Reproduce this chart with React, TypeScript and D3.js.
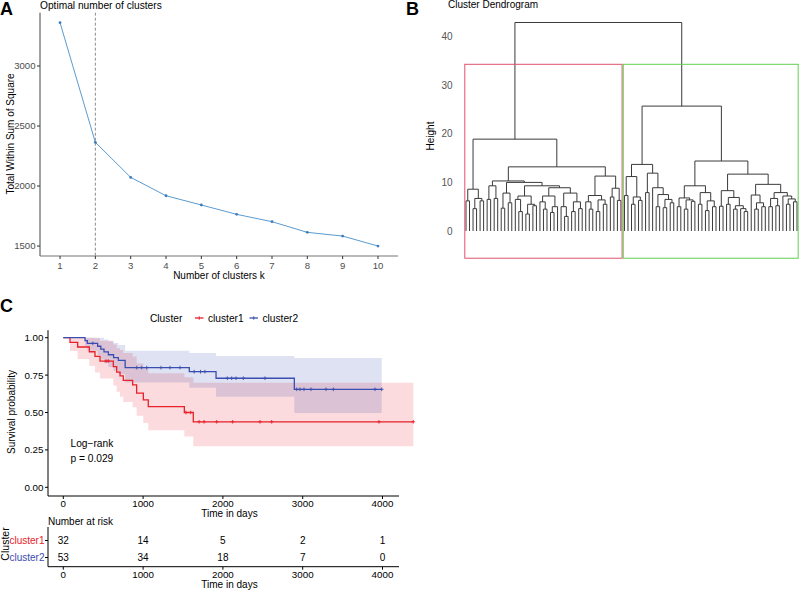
import React from 'react';
import * as d3 from 'd3';

const FONT = '"Liberation Sans", Arial, Helvetica, sans-serif';

// ---------------- Panel A : elbow plot ----------------
const clusterK = [1, 2, 3, 4, 5, 6, 7, 8, 9, 10];
const withinSS = [3361, 2364, 2072, 1919, 1842, 1764, 1703, 1614, 1583, 1500];
const wssTicks = [1500, 2000, 2500, 3000];
const optimalK = 2;

// ---------------- Panel B : dendrogram ----------------
// nested merges: "x" = leaf, "(a,b)h" = merge at height h
const treeLeft =
  '(((x,x)6.2,((x,x)4.6,(x,x)6.2)6.7)8.6,' +
  '((((x,x)6.5,(x,x)6.7)9.3,(((x,x)4.7,(x,x)5.8)7.8,' +
  '(((x,(x,x)4.0)6.5,((x,x)3.5,(x,x)5.2)5.5)7.2,' +
  '(((x,(x,x)4.5)6.0,((x,x)3.8,x)5.0)7.2,((x,(x,x)3.0)5.0,((x,x)4.0,(x,x)4.6)6.0)7.8)8.9)9.3)10.0)10.3,' +
  '(((x,(x,x)4.5)6.0,((x,x)4.0,(x,x)5.5)6.4)7.3,((x,x)7.0,(x,x)6.3)8.8)11.3)13.2)18.9';
const treeRight =
  '((((x,x)7.3,((x,x)5.5,(x,x)6.3)7.0)11.2,((x,x)7.9,(x,((x,x)5.0,((x,x)4.8,(x,x)5.8)6.5)7.5)8.9)11.9)13.7,' +
  '((((x,x)5.0,((x,x)4.5,(x,x)6.1)6.4)6.8,((x,x)5.5,((x,x)4.2,(x,x)5.0)6.2)7.9)9.3,' +
  '(((x,x)5.1,((x,x)5.5,((x,x)4.5,(x,(x,x)4.0)4.6)5.2)6.9)8.3,' +
  '((x,((x,x)4.5,(x,x)5.0)5.8)7.4,(((x,x)5.0,(x,x)5.2)6.7,(x,((x,x)5.5,(x,x)6.0)6.6)7.2)7.9)9.6)11.7)14.4)25.7';
const rootHeight = 42.9;
const heightTicks = [0, 10, 20, 30, 40];
const boxColors = ['#DF536B', '#61D04F'];

// ---------------- Panel C : Kaplan-Meier ----------------
const groupNames = ['cluster1', 'cluster2'];
const groupColors = ['#E8212A', '#3A4DB0'];

const c1Times = [0, 84, 180, 326, 397, 460, 627, 669, 711, 752, 869, 919, 1003, 1065, 1517, 1629];
const c1Surv = [1, 0.969, 0.938, 0.906, 0.875, 0.844, 0.806, 0.77, 0.745, 0.715, 0.684, 0.63, 0.584, 0.539, 0.5, 0.438];
const c1Lower = [1, 0.911, 0.858, 0.81, 0.768, 0.727, 0.681, 0.638, 0.605, 0.57, 0.535, 0.479, 0.429, 0.381, 0.34, 0.275];
const c1Upper = [1, 1, 1, 1, 0.997, 0.98, 0.955, 0.93, 0.917, 0.897, 0.875, 0.828, 0.796, 0.763, 0.736, 0.699];
const c1End = 4386;
const c1Censor = [535, 564, 1537, 1596, 1702, 1764, 1922, 2122, 2465, 2611, 3956, 4386];

const c2Times = [0, 272, 301, 430, 470, 510, 565, 630, 690, 775, 1579, 1914, 2895];
const c2Surv = [1, 0.981, 0.962, 0.943, 0.924, 0.905, 0.886, 0.867, 0.848, 0.8, 0.773, 0.729, 0.655];
const c2Lower = [1, 0.945, 0.912, 0.882, 0.855, 0.829, 0.804, 0.779, 0.756, 0.701, 0.666, 0.605, 0.496];
const c2Upper = [1, 1, 1, 1, 0.999, 0.988, 0.977, 0.965, 0.952, 0.913, 0.897, 0.878, 0.865];
const c2End = 3990;
const c2Censor = [370, 920, 983, 1045, 1224, 1337, 1462, 1640, 1720, 1775, 2055, 2110, 2164, 2256, 2527, 2925, 2966, 3016, 3104, 3292, 3384, 3906, 3990];

const timeTicks = [0, 1000, 2000, 3000, 4000];
const survTicks = [0, 0.25, 0.5, 0.75, 1];
const riskCluster1 = [32, 14, 5, 2, 1];
const riskCluster2 = [53, 34, 18, 7, 0];
const pValueText = 'p = 0.029';

// ---------------- helpers ----------------
type TNode = { h: number; children?: TNode[]; pos?: number; first?: number; last?: number };

function parseTree(src: string): TNode {
  const s = src.replace(/\s+/g, '');
  let i = 0;
  const parse = (): TNode => {
    if (s[i] === '(') {
      i++;
      const a = parse();
      i++; // ,
      const b = parse();
      i++; // )
      let num = '';
      while (i < s.length && /[0-9.]/.test(s[i])) num += s[i++];
      return { h: +num, children: [a, b] };
    }
    i++;
    return { h: 0 };
  };
  return parse();
}

function layoutTree(root: TNode) {
  let count = 0;
  const walk = (n: TNode) => {
    if (!n.children) {
      count++;
      n.pos = count;
      n.first = count;
      n.last = count;
    } else {
      n.children.forEach(walk);
      n.pos = (n.children[0].pos! + n.children[1].pos!) / 2;
      n.first = n.children[0].first;
      n.last = n.children[1].last;
    }
  };
  walk(root);
  return count;
}

function collect(n: TNode, out: TNode[]) {
  if (n.children) {
    out.push(n);
    n.children.forEach((c) => collect(c, out));
  }
}

const PanelA = () => {
  const x = d3.scaleLinear().domain([0.433, 10.567]).range([40, 398]);
  const y = d3.scaleLinear().domain([1417, 3444]).range([256, 12.7]);
  const pts = clusterK.map((k, i) => [k, withinSS[i]] as [number, number]);
  const line = d3.line<[number, number]>().x((d) => x(d[0])).y((d) => y(d[1]));
  return (
    <g>
      <text x={0} y={15} fontSize={18} fontWeight="bold" fontFamily={FONT}>A</text>
      <text x={40} y={8.5} fontSize={10.2} fontFamily={FONT}>Optimal number of clusters</text>
      <line x1={x(optimalK)} x2={x(optimalK)} y1={12.7} y2={256} stroke="#8c8c8c" strokeWidth={1} strokeDasharray="3,2" />
      <path d={line(pts) || ''} fill="none" stroke="#5B9BD0" strokeWidth={1} />
      {pts.map((p, i) => (
        <circle key={i} cx={x(p[0])} cy={y(p[1])} r={1.4} fill="#3B7DC0" />
      ))}
      <line x1={40} x2={40} y1={12.7} y2={256} stroke="#444" strokeWidth={1} />
      <line x1={40} x2={398} y1={256} y2={256} stroke="#777" strokeWidth={1.2} />
      {wssTicks.map((t) => (
        <g key={t}>
          <line x1={37} x2={40} y1={y(t)} y2={y(t)} stroke="#333" />
          <text x={35.5} y={y(t) + 3.4} fontSize={9.6} textAnchor="end" fill="#4D4D4D" fontFamily={FONT}>{t}</text>
        </g>
      ))}
      {clusterK.map((k) => (
        <g key={k}>
          <line x1={x(k)} x2={x(k)} y1={256} y2={259} stroke="#333" />
          <text x={x(k)} y={268.5} fontSize={9.6} textAnchor="middle" fill="#4D4D4D" fontFamily={FONT}>{k}</text>
        </g>
      ))}
      <text x={219} y={279} fontSize={10} textAnchor="middle" fontFamily={FONT}>Number of clusters k</text>
      <text transform={`translate(14,134) rotate(-90)`} fontSize={10} textAnchor="middle" fontFamily={FONT}>Total Within Sum of Square</text>
    </g>
  );
};

const PanelB = () => {
  const root = parseTree(`(${treeLeft},${treeRight})${rootHeight}`);
  const n = layoutTree(root);
  const x = d3.scaleLinear().domain([1, n]).range([466, 797]);
  const y = d3.scaleLinear().domain([0, 40]).range([231, 36.6]);
  const nodes: TNode[] = [];
  collect(root, nodes);
  const segs = nodes.map((nd) => {
    const [a, b] = nd.children!;
    return `M${x(a.pos!)},${y(a.h)}V${y(nd.h)}H${x(b.pos!)}V${y(b.h)}`;
  });
  const topTwo = [root.h, Math.max(root.children![0].h, root.children![1].h)];
  const boxTop = y(d3.mean(topTwo)!);
  const boxBottom = y(-5.6);
  return (
    <g>
      <text x={406} y={15} fontSize={18} fontWeight="bold" fontFamily={FONT}>B</text>
      <text x={448} y={8} fontSize={10} fontFamily={FONT}>Cluster Dendrogram</text>
      {heightTicks.map((t) => (
        <text key={t} x={452.5} y={y(t) + 3.5} fontSize={10} textAnchor="end" fill="#555" fontFamily={FONT}>{t}</text>
      ))}
      <text transform={`translate(433.5,136) rotate(-90)`} fontSize={10} textAnchor="middle" fontFamily={FONT}>Height</text>
      <path d={segs.join('')} fill="none" stroke="#3a3a3a" strokeWidth={1} />
      {root.children!.map((c, i) => (
        <rect
          key={i}
          x={x(c.first! - 0.34)}
          y={boxTop}
          width={x(c.last! + 0.33) - x(c.first! - 0.34)}
          height={boxBottom - boxTop}
          fill="none"
          stroke={boxColors[i]}
          strokeWidth={1}
        />
      ))}
    </g>
  );
};

type Grp = { times: number[]; surv: number[]; lower: number[]; upper: number[]; end: number; censor: number[] };
const groups: Grp[] = [
  { times: c1Times, surv: c1Surv, lower: c1Lower, upper: c1Upper, end: c1End, censor: c1Censor },
  { times: c2Times, surv: c2Surv, lower: c2Lower, upper: c2Upper, end: c2End, censor: c2Censor },
];

const PanelC = () => {
  const x = d3.scaleLinear().domain([0, 4000]).range([63.3, 382.5]);
  const y = d3.scaleLinear().domain([0, 1]).range([487.3, 337.7]);
  const rowY = d3.scalePoint<string>().domain(groupNames).range([540.5, 557.5]);
  const risk = [riskCluster1, riskCluster2];

  const stepLine = d3
    .line<{ t: number; s: number }>()
    .x((d) => x(d.t))
    .y((d) => y(d.s))
    .curve(d3.curveStepAfter);
  const band = d3
    .area<{ t: number; lo: number; hi: number }>()
    .x((d) => x(d.t))
    .y0((d) => y(d.lo))
    .y1((d) => y(d.hi))
    .curve(d3.curveStepAfter);

  const survAt = (g: Grp, t: number) => {
    let k = 0;
    for (let i = 0; i < g.times.length; i++) if (g.times[i] <= t) k = i;
    return g.surv[k];
  };

  return (
    <g>
      <text x={0} y={312} fontSize={18} fontWeight="bold" fontFamily={FONT}>C</text>
      {/* legend */}
      <text x={150} y={321.5} fontSize={10.2} fontFamily={FONT}>Cluster</text>
      {groupNames.map((nm, i) => {
        const lx = i === 0 ? 195 : 249.5;
        return (
          <g key={nm}>
            <line x1={lx} x2={lx + 8.5} y1={318} y2={318} stroke={groupColors[i]} strokeWidth={1.3} />
            <line x1={lx + 4.25} x2={lx + 4.25} y1={316.3} y2={319.7} stroke={groupColors[i]} strokeWidth={1} />
            <text x={lx + 13} y={321.5} fontSize={10.2} fontFamily={FONT}>{nm}</text>
          </g>
        );
      })}
      {/* bands */}
      {groups.map((g, gi) => {
        const pts = g.times.map((t, i) => ({ t, lo: g.lower[i], hi: g.upper[i] }));
        pts.push({ t: g.end, lo: g.lower[g.lower.length - 1], hi: g.upper[g.upper.length - 1] });
        return <path key={'b' + gi} d={band(pts) || ''} fill={groupColors[gi]} fillOpacity={0.16} stroke="none" />;
      })}
      {/* curves */}
      {groups.map((g, gi) => {
        const pts = g.times.map((t, i) => ({ t, s: g.surv[i] }));
        pts.push({ t: g.end, s: g.surv[g.surv.length - 1] });
        return (
          <g key={'c' + gi}>
            <path d={stepLine(pts) || ''} fill="none" stroke={groupColors[gi]} strokeWidth={1.3} />
            {g.censor.map((t, j) => {
              const cx = x(t);
              const cy = y(survAt(g, t));
              return <path key={j} d={`M${cx - 1.8},${cy}H${cx + 1.8}M${cx},${cy - 1.8}V${cy + 1.8}`} stroke={groupColors[gi]} strokeWidth={0.9} />;
            })}
          </g>
        );
      })}
      {/* axes */}
      <line x1={48} x2={48} y1={330.2} y2={496} stroke="#000" strokeWidth={1} />
      <line x1={48} x2={399} y1={496} y2={496} stroke="#000" strokeWidth={1} />
      {survTicks.map((t) => (
        <g key={t}>
          <line x1={45} x2={48} y1={y(t)} y2={y(t)} stroke="#000" />
          <text x={43.5} y={y(t) + 3.4} fontSize={9.8} textAnchor="end" fontFamily={FONT}>{t.toFixed(2)}</text>
        </g>
      ))}
      {timeTicks.map((t) => (
        <g key={t}>
          <line x1={x(t)} x2={x(t)} y1={496} y2={499} stroke="#000" />
          <text x={x(t)} y={506.5} fontSize={9.8} textAnchor="middle" fontFamily={FONT}>{t}</text>
        </g>
      ))}
      <text x={229.5} y={516.5} fontSize={10} textAnchor="middle" fontFamily={FONT}>Time in days</text>
      <text transform={`translate(15,412) rotate(-90)`} fontSize={10} textAnchor="middle" fontFamily={FONT}>Survival probability</text>
      <text x={70.5} y={446.5} fontSize={10.2} fontFamily={FONT}>Log−rank</text>
      <text x={70.5} y={461.5} fontSize={10.2} fontFamily={FONT}>{pValueText}</text>

      {/* risk table */}
      <text x={48} y={524.5} fontSize={10} fontFamily={FONT}>Number at risk</text>
      <line x1={48} x2={48} y1={527} y2={566.7} stroke="#000" />
      <line x1={48} x2={399} y1={566.7} y2={566.7} stroke="#000" />
      {groupNames.map((nm, i) => (
        <g key={nm}>
          <line x1={45} x2={48} y1={rowY(nm)!} y2={rowY(nm)!} stroke="#000" />
          <text x={44.5} y={rowY(nm)! + 3.5} fontSize={10} textAnchor="end" fill={groupColors[i]} fontFamily={FONT}>{nm}</text>
          {timeTicks.map((t, j) => (
            <text key={t} x={x(t)} y={rowY(nm)! + 3.5} fontSize={10} textAnchor="middle" fontFamily={FONT}>{risk[i][j]}</text>
          ))}
        </g>
      ))}
      {timeTicks.map((t) => (
        <g key={'r' + t}>
          <line x1={x(t)} x2={x(t)} y1={566.7} y2={569.7} stroke="#000" />
          <text x={x(t)} y={577.5} fontSize={9.8} textAnchor="middle" fontFamily={FONT}>{t}</text>
        </g>
      ))}
      <text x={229.5} y={587.5} fontSize={10} textAnchor="middle" fontFamily={FONT}>Time in days</text>
      <text transform={`translate(9,544) rotate(-90)`} fontSize={10.5} textAnchor="middle" fontFamily={FONT}>Cluster</text>
    </g>
  );
};

export default function App() {
  return (
    <svg
      width={800}
      height={590}
      viewBox="0 0 800 590"
      style={{ position: 'absolute', left: 0, top: 0, background: '#fff' }}
    >
      <rect x={0} y={0} width={800} height={590} fill="#fff" />
      <PanelA />
      <PanelB />
      <PanelC />
    </svg>
  );
}
